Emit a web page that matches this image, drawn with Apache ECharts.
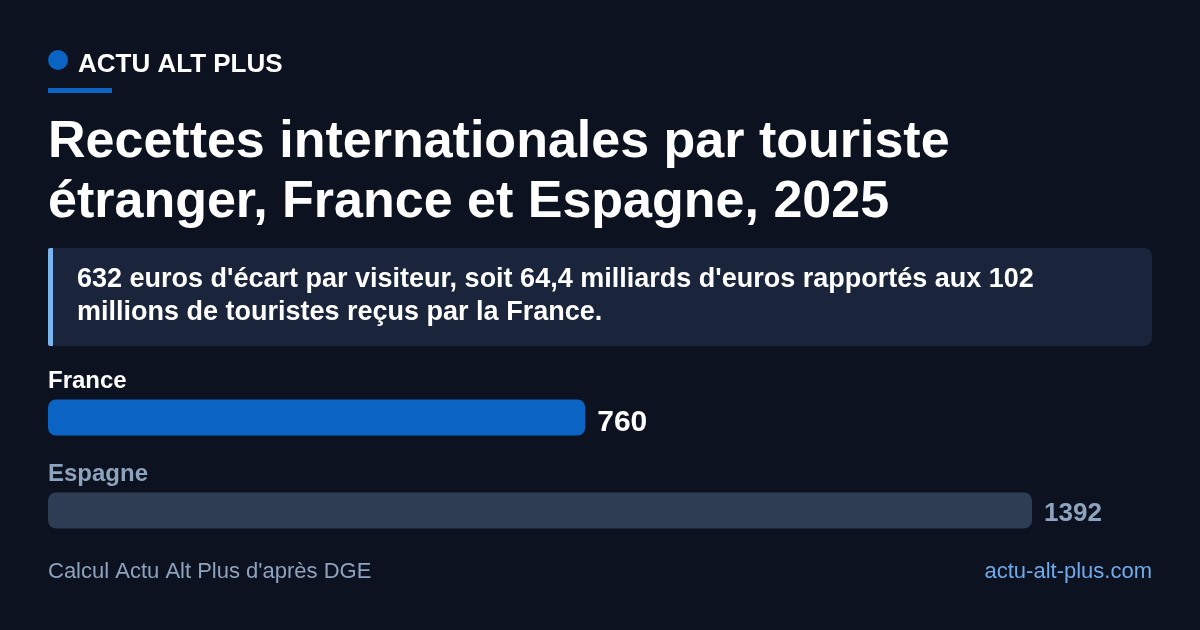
<!DOCTYPE html>
<html><head><meta charset="utf-8">
<script src="https://cdn.jsdelivr.net/npm/echarts@6/dist/echarts.min.js"></script>
<style>html,body{margin:0;padding:0;background:#0c1220;}#c{width:1200px;height:630px;}</style>
</head><body><div id="c"></div>
<script>
const categories = ['France', 'Espagne'];
const values = [760, 1392];
const brand = 'ACTU ALT PLUS';
const titleLines = ['Recettes internationales par touriste', 'étranger, France et Espagne, 2025'];
const calloutLines = ["632 euros d'écart par visiteur, soit 64,4 milliards d'euros rapportés aux 102", 'millions de touristes reçus par la France.'];
const sourceText = "Calcul Actu Alt Plus d'après DGE";
const siteText = 'actu-alt-plus.com';

const FONT = '"Liberation Sans", Arial, sans-serif';
const barColors = ['#0b64c3', '#2e3c54'];
const labelColors = ['#ffffff', '#8ea3bd'];
const valueSizes = [30, 26];

const chart = echarts.init(document.getElementById('c'), null, {renderer: 'canvas'});
chart.setOption({
  backgroundColor: '#0c1220',
  animation: false,
  grid: {left: 48, top: 371, width: 984, height: 186},
  xAxis: {type: 'value', min: 0, max: 1392, show: false},
  yAxis: {
    type: 'category', data: categories, inverse: true,
    axisLine: {show: false}, axisTick: {show: false}, splitLine: {show: false},
    axisLabel: {
      inside: true, align: 'left', verticalAlign: 'bottom', margin: 0,
      padding: [0, 0, 24, 0],
      formatter: (v, i) => i === 0 ? '{a|' + v + '}' : '{b|' + v + '}',
      rich: {
        a: {color: labelColors[0], fontSize: 24, fontWeight: 'bold', fontFamily: FONT},
        b: {color: labelColors[1], fontSize: 24, fontWeight: 'bold', fontFamily: FONT}
      }
    },
    z: 10
  },
  series: [{
    type: 'bar', barWidth: 36,
    data: values.map((v, i) => ({
      value: v,
      itemStyle: {color: barColors[i], borderRadius: 8},
      label: {color: labelColors[i], fontSize: valueSizes[i], offset: [0, i === 0 ? 5 : 3]}
    })),
    label: {show: true, position: 'right', distance: 12, fontWeight: 'bold', fontFamily: FONT}
  }],
  graphic: [
    {type: 'circle', shape: {cx: 58, cy: 60, r: 10}, style: {fill: '#0b64c3'}},
    {type: 'text', left: 78, top: 52, style: {text: brand, fill: '#ffffff', font: 'bold 26px ' + FONT}},
    {type: 'rect', shape: {x: 48, y: 88, width: 64, height: 5}, style: {fill: '#0b64c3'}},
    {type: 'text', left: 48, top: 113, style: {text: titleLines.join('\n'), fill: '#ffffff', font: 'bold 52px ' + FONT, lineHeight: 60}},
    {type: 'rect', shape: {x: 48, y: 248, width: 1104, height: 98, r: 8}, style: {fill: '#1a243a'}},
    {type: 'rect', shape: {x: 48, y: 248, width: 5, height: 98, r: [2, 0, 0, 2]}, style: {fill: '#7cb4ee'}},
    {type: 'text', left: 77, top: 263, style: {text: calloutLines.join('\n'), fill: '#ffffff', font: 'bold 27px ' + FONT, lineHeight: 33}},
    {type: 'text', left: 48, top: 561, style: {text: sourceText, fill: '#8ea3bd', font: '22px ' + FONT}},
    {type: 'text', right: 48, top: 561, style: {text: siteText, fill: '#70aaea', font: '22px ' + FONT}}
  ]
});
</script></body></html>
